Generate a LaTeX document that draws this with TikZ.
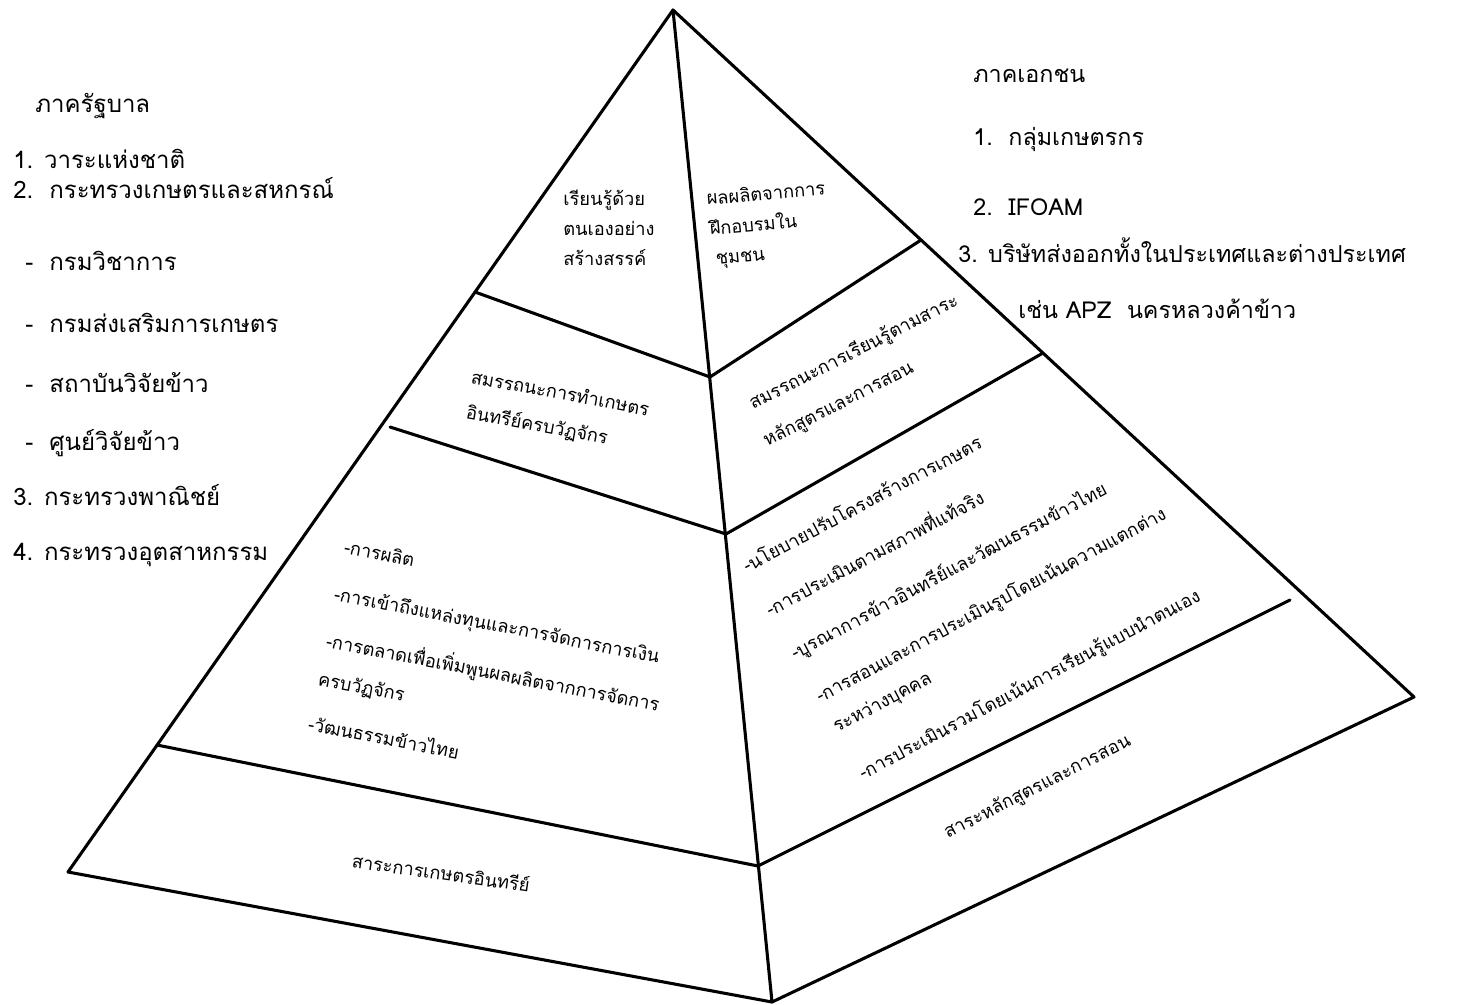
\documentclass[tikz,border=0pt]{standalone}
\usepackage{fontspec}
\newfontfamily\thai[Script=Thai]{Loma}
\begin{document}
\begin{tikzpicture}[x=0.75pt,y=-0.75pt,
  edge/.style={line width=2.3pt, line cap=round, line join=round},
  lst/.style={font=\thai\fontsize{18}{21}\selectfont, anchor=base west, inner sep=0pt},
  rlst/.style={font=\thai\fontsize{17.5}{21}\selectfont, anchor=base west, inner sep=0pt},
  pyr/.style={font=\thai\fontsize{13.7}{16}\selectfont, anchor=base west, inner sep=0pt},
  pyrc/.style={pyr, anchor=base}]
\useasboundingbox (0,0) rectangle (1477,1004);
% pyramid vertices
\coordinate (A) at (673,10);
\coordinate (L) at (68,872);
\coordinate (B) at (772,1002);
\coordinate (R) at (1414,697);
% divider end points
\coordinate (L1a) at (475,292);
\coordinate (C1) at (710,377);
\coordinate (L2a) at (390,427);
\coordinate (C2) at (726,534);
\coordinate (L3a) at (157,745);
\coordinate (C3) at (758,866);
\coordinate (R1b) at (921,240);
\coordinate (R2b) at (1043,353);
\coordinate (R3b) at (1290,600);
% outline
\draw[edge] (A) -- (L) -- (B) -- (R) -- cycle;
\draw[edge] (A) -- (B);
\draw[edge] (L1a) -- (C1) -- (R1b);
\draw[edge] (L2a) -- (C2) -- (R2b);
\draw[edge] (L3a) -- (C3) -- (R3b);
% left list
\node[lst] (g0) at (35,112) {ภาครัฐบาล};
\node[lst] (g1) at (13,168) {1. วาระแห่งชาติ};
\node[lst] (g2) at (13,198) {2.\ \ กระทรวงเกษตรและสหกรณ์};
\node[lst] (g3) at (25,270) {-\ \ กรมวิชาการ};
\node[lst] (g4) at (25,332) {-\ \ กรมส่งเสริมการเกษตร};
\node[lst] (g5) at (25,392) {-\ \ สถาบันวิจัยข้าว};
\node[lst] (g6) at (25,450) {-\ \ ศูนย์วิจัยข้าว};
\node[lst] (g7) at (13,505) {3. กระทรวงพาณิชย์};
\node[lst] (g8) at (13,560) {4. กระทรวงอุตสาหกรรม};
% right list
\node[rlst] (p0) at (973,82) {ภาคเอกชน};
\node[rlst] (p1) at (973,145) {1.\ \ กลุ่มเกษตรกร};
\node[rlst] (p2) at (973,215) {2.\ \ IFOAM};
\node[rlst] (p3) at (958,262) {3. บริษัทส่งออกทั้งในประเทศและต่างประเทศ};
\node[rlst] (p4) at (1018,318) {เช่น APZ\ \ นครหลวงค้าข้าว};
% top band
\node[pyr] (t1) at (563,205) {เรียนรู้ด้วย};
\node[pyr] (t2) at (563,235) {ตนเองอย่าง};
\node[pyr] (t3) at (563,265) {สร้างสรรค์};
\node[pyr, rotate=5] (u1) at (707,205) {ผลผลิตจากการ};
\node[pyr, rotate=5] (u2) at (710,235) {ฝึกอบรมใน};
\node[pyr, rotate=5] (u3) at (716,265) {ชุมชน};
% second band
\node[pyr, rotate=-10.5] (m1) at (470,383) {สมรรถนะการทำเกษตร};
\node[pyr, rotate=-10.5] (m2) at (465,418) {อินทรีย์ครบวัฏจักร};
\node[pyr, rotate=27] (n1) at (753,410) {สมรรถนะการเรียนรู้ตามสาระ};
\node[pyr, rotate=27] (n2) at (767,447) {หลักสูตรและการสอน};
% third band left
\node[pyr, rotate=-11] (k1) at (343,553) {-การผลิต};
\node[pyr, rotate=-11] (k2) at (333,600) {-การเข้าถึงแหล่งทุนและการจัดการการเงิน};
\node[pyr, rotate=-11] (k3) at (325,647) {-การตลาดเพื่อเพิ่มพูนผลผลิตจากการจัดการ};
\node[pyr, rotate=-11] (k4) at (317,685) {ครบวัฏจักร};
\node[pyr, rotate=-11] (k5) at (307,730) {-วัฒนธรรมข้าวไทย};
% third band right
\node[pyr, rotate=28] (q1) at (747,573) {-นโยบายปรับโครงสร้างการเกษตร};
\node[pyr, rotate=28] (q2) at (770,617) {-การประเมินตามสภาพที่แท้จริง};
\node[pyr, rotate=28] (q3) at (795,660) {-บูรณาการข้าวอินทรีย์และวัฒนธรรมข้าวไทย};
\node[pyr, rotate=28] (q4) at (820,703) {-การสอนและการประเมินรูปโดยเน้นความแตกต่าง};
\node[pyr, rotate=28] (q5) at (837,733) {ระหว่างบุคคล};
\node[pyr, rotate=28] (q6) at (863,780) {-การประเมินรวมโดยเน้นการเรียนรู้แบบนำตนเอง};
% bottom band
\node[pyrc, rotate=-8] (b1) at (440,880) {สาระการเกษตรอินทรีย์};
\node[pyrc, rotate=27] (b2) at (1040,792) {สาระหลักสูตรและการสอน};
\end{tikzpicture}
\end{document}
